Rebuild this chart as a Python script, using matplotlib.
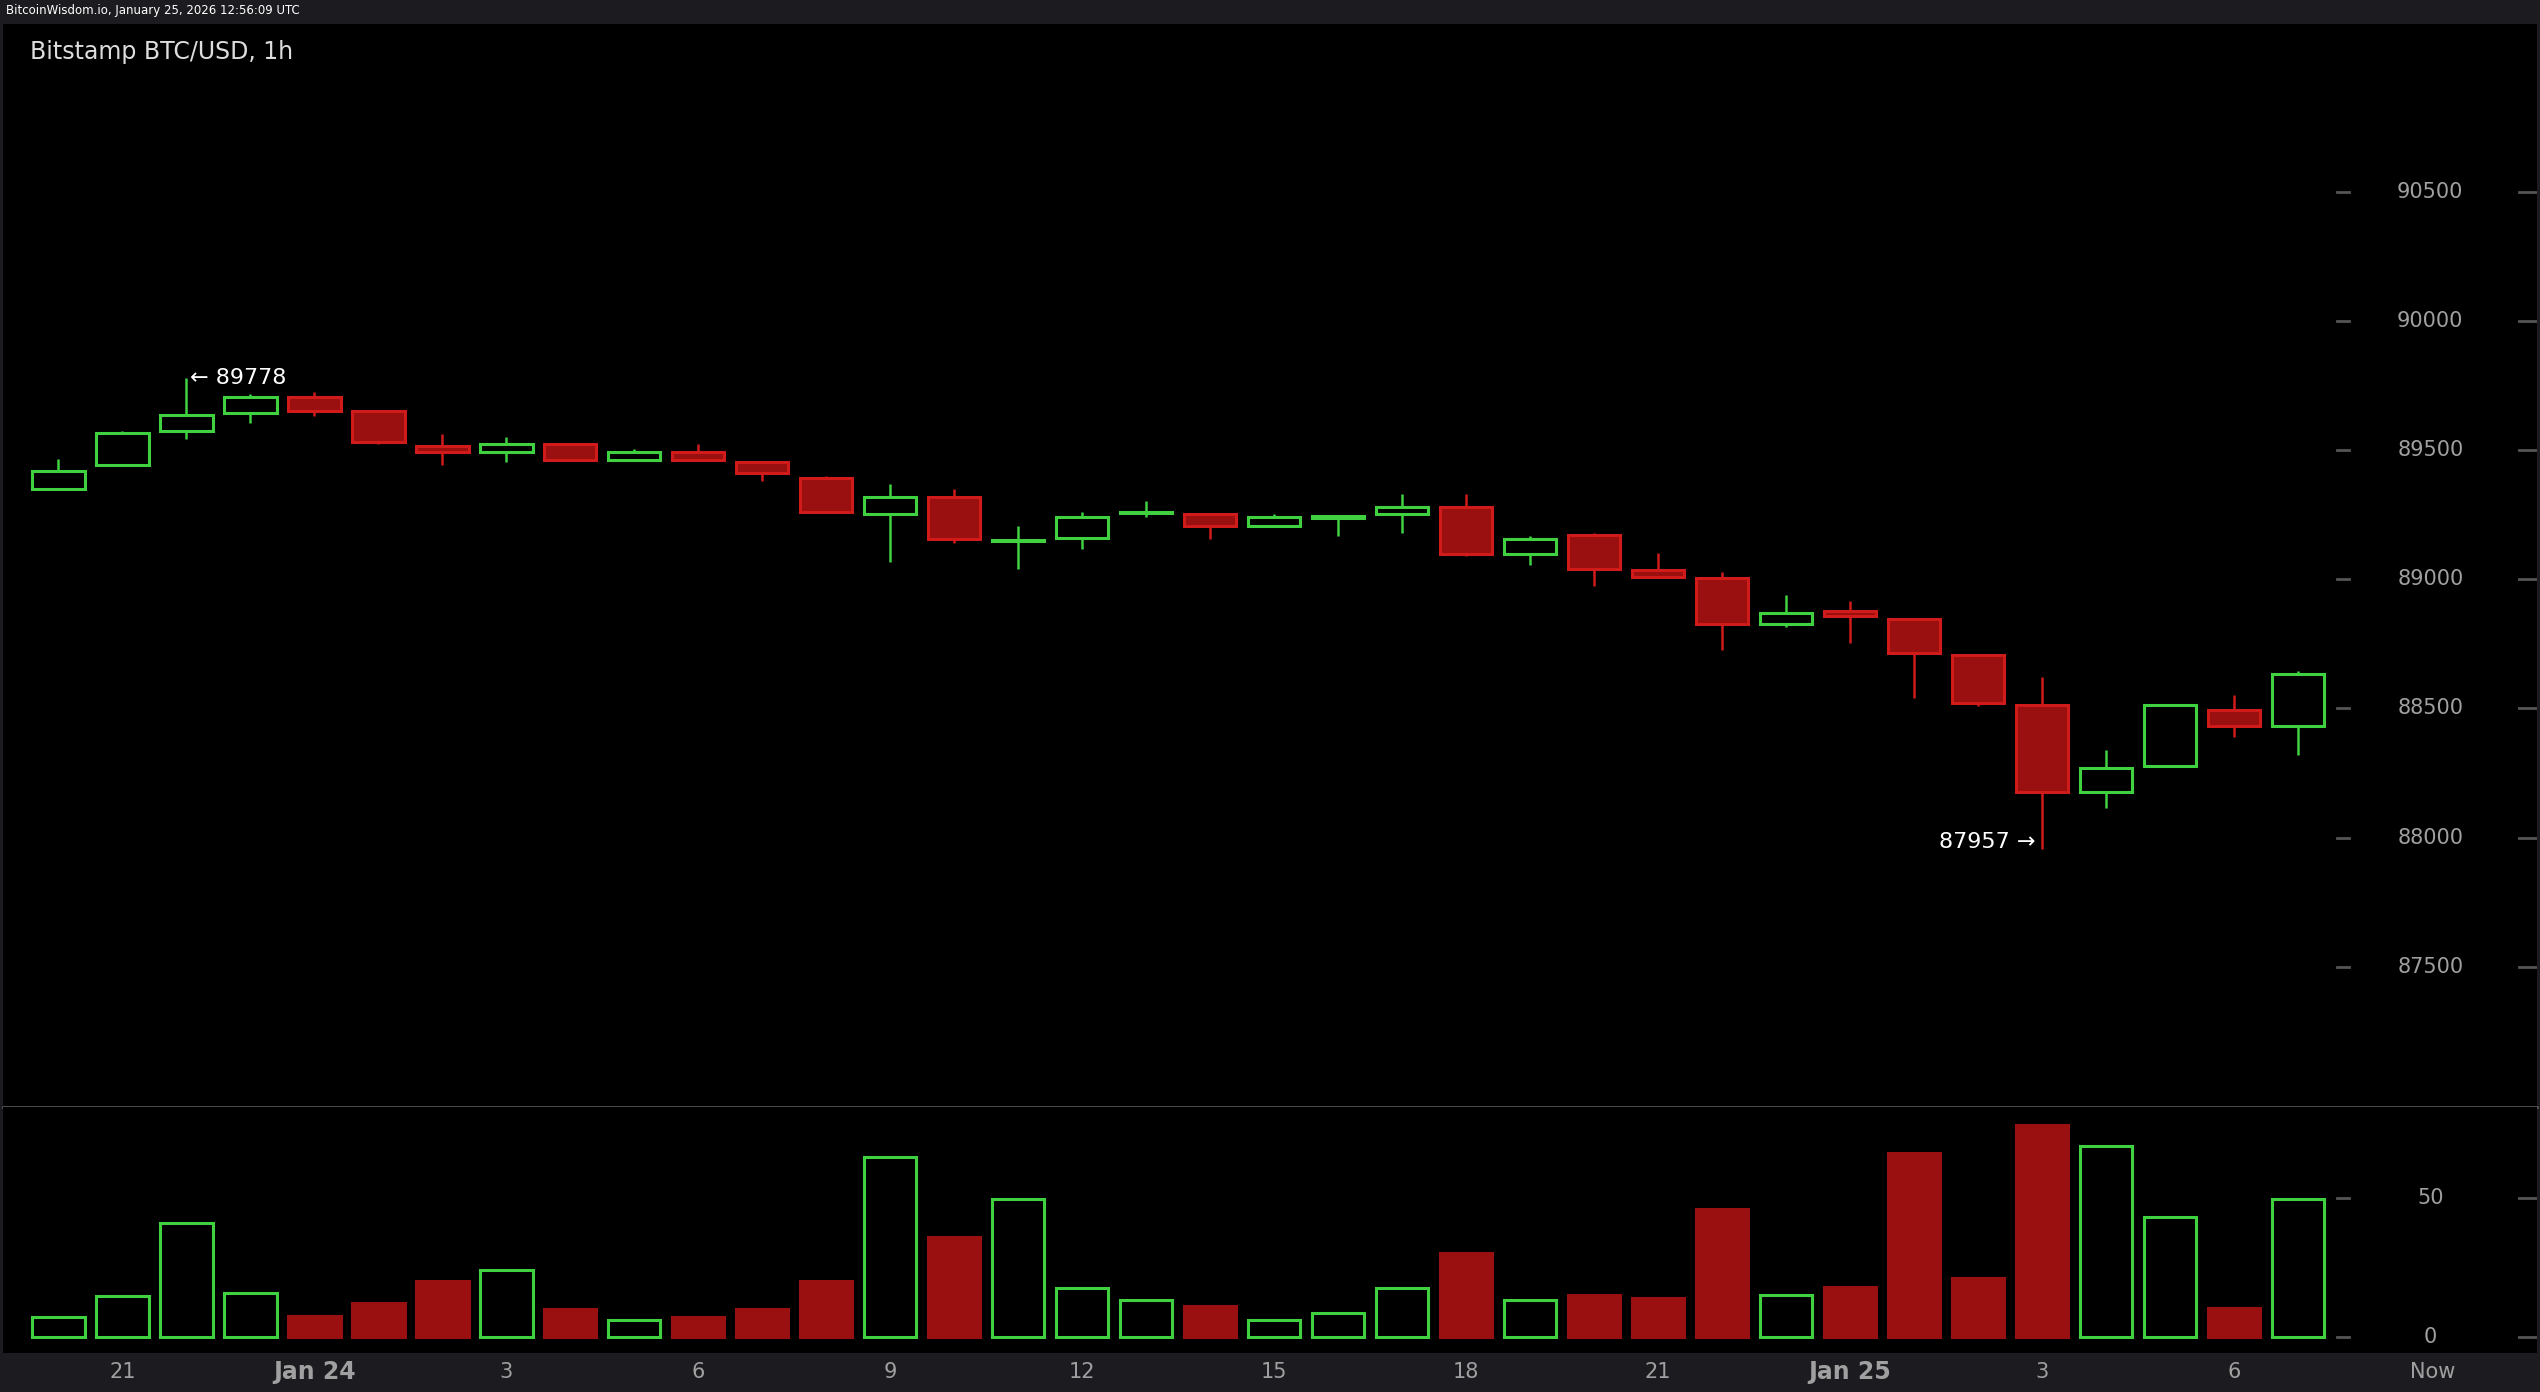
import matplotlib
matplotlib.use("Agg")
import matplotlib.pyplot as plt
import matplotlib.transforms as mtransforms

opens  = [89348,89442,89573,89643,89705,89649,89517,89492,89523,89461,89492,89455,89392,89254,89317,89147,89160,89255,89254,89204,89238,89254,89279,89097,89172,89034,89003,88827,88878,88846,88708,88514,88175,88276,88495,88432]
highs  = [89467,89573,89778,89718,89724,89649,89561,89549,89523,89505,89523,89455,89398,89367,89348,89204,89260,89304,89254,89254,89245,89329,89329,89166,89179,89103,89028,88940,88915,88846,88708,88621,88338,88514,88552,88646]
lows   = [89348,89442,89542,89605,89630,89523,89442,89455,89461,89461,89461,89379,89260,89066,89141,89041,89116,89241,89154,89204,89166,89179,89091,89053,88972,89003,88727,88815,88752,88539,88508,87957,88113,88276,88389,88320]
closes = [89417,89567,89636,89705,89649,89530,89492,89523,89461,89492,89461,89411,89260,89317,89154,89150,89241,89260,89204,89241,89241,89279,89097,89154,89041,89009,88827,88871,88859,88715,88520,88175,88269,88514,88432,88633]
volumes = [7,14.5,41,15.7,7.5,12,20,24,10,6,7,10,20,64.5,36,49.5,17.5,13.4,11,6,8.7,17.5,30,13.4,15,14,46,15,18,66,21,76,68.6,43,10.5,49.5]
xtick_pos = [1,4,7,10,13,16,19,22,25,28,31,34,37.1]
xtick_labels = ["21","Jan 24","3","6","9","12","15","18","21","Jan 25","3","6","Now"]
price_ticks = [87500,88000,88500,89000,89500,90000,90500]
vol_ticks = [0,50]

GREEN = "#3fd13f"
RED_E = "#d11a1a"
RED_F = "#9a0f0f"
GRAY = "#a0a0a0"

fig = plt.figure(figsize=(25.4,13.92), dpi=100, facecolor="#1c1c20")
L, R = 0.0013, 0.9987
axp = fig.add_axes([L, 0.205, R-L, 0.9825-0.205])
axv = fig.add_axes([L, 0.028, R-L, 0.205-0.028])
n = len(opens)
for ax in (axp, axv):
    ax.set_facecolor("black")
    ax.set_xlim(-0.86, 38.73)
    ax.set_xticks([]); ax.set_yticks([])
    for s in ax.spines.values():
        s.set_visible(False)
axp.set_ylim(86959, 91147)
axv.set_ylim(-5.8, 82.6)

w = 0.82
for i in range(n):
    o, h, l, c = opens[i], highs[i], lows[i], closes[i]
    up = c >= o
    col = GREEN if up else RED_E
    lo, hi = min(o, c), max(o, c)
    axp.vlines(i, l, lo, color=col, lw=1.8)
    axp.vlines(i, hi, h, color=col, lw=1.8)
    bh = max(hi - lo, 6)
    axp.add_patch(plt.Rectangle((i - w/2, lo), w, bh, facecolor="none" if up else RED_F,
                                edgecolor=col, lw=2.2))
    axv.add_patch(plt.Rectangle((i - w/2, 0), w, volumes[i], facecolor="none" if up else RED_F,
                                edgecolor=col if up else RED_F, lw=2.2))

tp = mtransforms.blended_transform_factory(axp.transAxes, axp.transData)
for t in price_ticks:
    axp.text(0.958, t, str(t), transform=tp, color=GRAY, fontsize=15, ha="center", va="center")
    axp.plot([0.921, 0.926], [t, t], transform=tp, color="#555555", lw=2)
    axp.plot([0.993, 1.0], [t, t], transform=tp, color="#555555", lw=2)
tv = mtransforms.blended_transform_factory(axv.transAxes, axv.transData)
for t in vol_ticks:
    axv.text(0.958, t, str(t), transform=tv, color=GRAY, fontsize=15, ha="center", va="center")
    axv.plot([0.921, 0.926], [t, t], transform=tv, color="#555555", lw=2)
    axv.plot([0.993, 1.0], [t, t], transform=tv, color="#555555", lw=2)

axp.axhline(86959, color="#555555", lw=2, clip_on=False)

tx = mtransforms.blended_transform_factory(axv.transData, fig.transFigure)
for p, lab in zip(xtick_pos, xtick_labels):
    fw = "bold" if lab.startswith("Jan") else "normal"
    fig.text(p, 0.0145, lab, transform=tx, color=GRAY, fontsize=15 if fw == "normal" else 17,
             fontweight=fw, ha="center", va="center")

hi_i = highs.index(max(highs)); lo_i = lows.index(min(lows))
axp.text(hi_i + 0.05, max(highs), f"← {max(highs)}", color="white", fontsize=16, ha="left", va="center")
axp.text(lo_i - 0.1, min(lows) + 25, f"{min(lows)} →", color="white", fontsize=16, ha="right", va="center")

fig.text(0.012, 0.963, "Bitstamp BTC/USD, 1h", color="#dddddd", fontsize=17, ha="left", va="center")
fig.text(0.0025, 0.9925, "BitcoinWisdom.io, January 25, 2026 12:56:09 UTC", color="white",
         fontsize=8.5, ha="left", va="center")

fig.savefig("out.png", dpi=100, facecolor=fig.get_facecolor())
